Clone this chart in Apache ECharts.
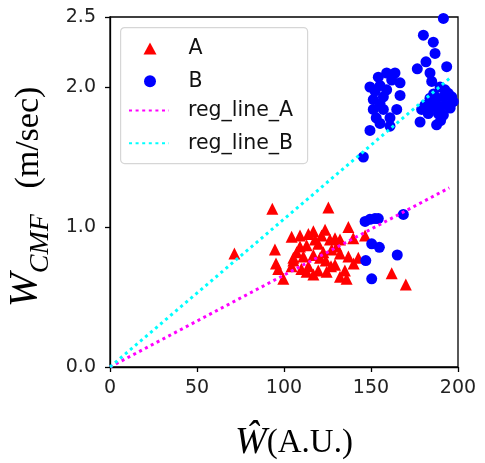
<!DOCTYPE html>
<html><head><meta charset="utf-8">
<script src="https://cdn.jsdelivr.net/npm/echarts@6/dist/echarts.min.js"></script>
<style>html,body{margin:0;padding:0;background:#fff}#c{width:485px;height:463px}</style>
</head><body><div id="c"></div>
<script>
const aX = [93.3,125.5,71.5,94.8,95.4,96.7,99.6,104.4,105.4,104.4,109.2,114.0,116.9,123.6,109.2,113.0,119.7,126.4,129.3,111.1,116.9,120.7,114.0,119.7,124.5,129.3,132.2,135.0,136.0,137.0,107.3,127.4,130.3,122.6,117.8,121.6,139.8,146.6,161.9,170.0,142.7,132.2,132.2,137.0,113.0,105.4,116.9,124.0,127.0,110.0,140.0];
const aY = [1.13,1.14,0.81,0.84,0.74,0.70,0.63,0.93,0.78,0.72,0.94,0.95,0.97,0.98,0.86,0.87,0.88,0.91,0.92,0.79,0.80,0.78,0.72,0.69,0.68,0.73,0.81,0.69,0.63,1.00,0.82,0.84,0.86,0.82,0.91,0.94,0.92,0.94,0.67,0.59,0.78,0.91,0.645,0.79,0.68,0.76,0.66,0.76,0.72,0.70,0.74];
const bX = [191.6,180.1,185.8,186.8,181.6,176.6,183.9,193.5,184.9,189.7,194.4,191.6,187.7,183.9,181.0,185.8,189.7,193.5,182.9,188.7,191.6,178.2,187.7,196.4,197.3,179.1,192.5,195.5,186.0,190.0,
            149.4,155.2,160.9,151.3,157.1,164.8,160.9,151.3,152.3,149.4,155.2,154.2,159.0,163.8,166.7,166.7,157.1,155.2,161.9,159.0,145.6,153.0,
            146.6,149.4,152.3,154.2,168.6,150.4,154.8,147.0,165.1,150.4];
const bY = [2.49,2.37,2.32,2.24,2.18,2.13,2.10,2.145,2.04,2.00,1.955,1.93,1.92,1.92,1.87,1.86,1.86,1.87,1.81,1.81,1.80,1.75,1.73,1.93,1.895,1.84,1.98,1.85,1.95,1.76,
            1.69,1.74,1.72,1.84,1.84,1.84,1.78,1.91,1.97,2.00,2.01,2.07,2.10,2.10,2.03,1.94,1.93,1.88,2.05,1.98,1.50,1.78,
            1.04,1.055,1.06,1.06,1.09,0.88,0.855,0.76,0.80,0.63];
const regX = [0, 195];
const regAY = [0, 1.28];
const regBY = [0, 2.06];
const xTicks = [0, 50, 100, 150, 200];
const yTicks = [0, 1, 2, 2.5];

const zip = (xs, ys) => xs.map((x, i) => [x, ys[i]]);
const chart = echarts.init(document.getElementById('c'));
const tickFont = {fontFamily: 'DejaVu Sans', fontSize: 19, color: '#222'};
const legText = {fontFamily: 'DejaVu Sans', fontSize: 20.5, color: '#111', lineHeight: 20};
chart.setOption({
  animation: false,
  graphic: [{
    type: 'rect', left: 120, top: 27, z: 5,
    shape: {width: 187, height: 136, r: 4},
    style: {fill: 'rgba(255,255,255,0.8)', stroke: '#d6d6d6', lineWidth: 1.2}
  }],
  grid: {left: 110, right: 27, top: 17, bottom: 96, outerBoundsMode: 'none', containLabel: false,
         show: true, borderColor: '#000', borderWidth: 1.3, backgroundColor: 'transparent'},
  legend: [{
    orient: 'vertical', left: 143.5, top: 38, padding: 0, z: 6,
    itemWidth: 13, itemHeight: 12, itemGap: 11.7,
    textStyle: Object.assign({padding: [0, 0, 0, 27]}, legText),
    data: [{name: 'A', icon: 'triangle'}, {name: 'B', icon: 'circle'}]
  }, {
    orient: 'vertical', left: 128, top: 100, padding: 0, z: 6,
    itemWidth: 40, itemHeight: 12, itemGap: 11.7,
    itemStyle: {color: 'rgba(0,0,0,0)', borderWidth: 0},
    textStyle: Object.assign({padding: [0, 0, 0, 14]}, legText),
    data: ['reg_line_A', 'reg_line_B']
  }],
  xAxis: {
    type: 'value', min: 0, max: 200, interval: 50,
    axisLine: {show: true, onZero: false, lineStyle: {color: '#000', width: 1.3}},
    axisTick: {show: true, length: 5, lineStyle: {color: '#000', width: 1.3}},
    axisLabel: Object.assign({margin: 12, customValues: xTicks}, tickFont),
    splitLine: {show: false},
    name: '{w|Ŵ}{n|(A.U.)}', nameLocation: 'middle', nameGap: 57,
    nameTextStyle: {padding: [0, 0, 0, 20], rich: {
      w: {fontFamily: 'Liberation Serif', fontStyle: 'italic', fontSize: 38, color: '#000'},
      n: {fontFamily: 'Liberation Serif', fontSize: 33, color: '#000'}
    }}
  },
  yAxis: {
    type: 'value', min: 0, max: 2.5, interval: 0.5,
    axisLine: {show: true, onZero: false, lineStyle: {color: '#000', width: 1.3}},
    axisTick: {show: true, length: 5, customValues: yTicks, lineStyle: {color: '#000', width: 1.3}},
    axisLabel: Object.assign({margin: 14, customValues: yTicks, formatter: v => v.toFixed(1)}, tickFont),
    splitLine: {show: false},
    name: '{w|W}{s|CMF}{n|   (m/sec)}', nameLocation: 'middle', nameGap: 60, nameRotate: 90,
    nameTextStyle: {padding: [0, 0, 0, -10], rich: {
      w: {fontFamily: 'Liberation Serif', fontStyle: 'italic', fontSize: 41, color: '#000', verticalAlign: 'bottom'},
      s: {fontFamily: 'Liberation Serif', fontStyle: 'italic', fontSize: 28, color: '#000', verticalAlign: 'bottom', padding: [0, 0, -9, 0]},
      n: {fontFamily: 'Liberation Serif', fontSize: 34, color: '#000', verticalAlign: 'bottom'}
    }}
  },
  series: [
    {name: 'A', type: 'scatter', symbol: 'triangle', symbolSize: 12, itemStyle: {color: '#ff0000', opacity: 1}, data: zip(aX, aY)},
    {name: 'B', type: 'scatter', symbol: 'circle', symbolSize: 11, itemStyle: {color: '#0000ff', opacity: 1}, data: zip(bX, bY)},
    {name: 'reg_line_A', type: 'line', symbol: 'none', lineStyle: {color: '#ff00ff', width: 3, type: [3, 3.6]}, itemStyle: {color: '#ff00ff'}, data: zip(regX, regAY)},
    {name: 'reg_line_B', type: 'line', symbol: 'none', lineStyle: {color: '#00ffff', width: 3, type: [3, 3.6]}, itemStyle: {color: '#00ffff'}, data: zip(regX, regBY)}
  ]
});
</script></body></html>
